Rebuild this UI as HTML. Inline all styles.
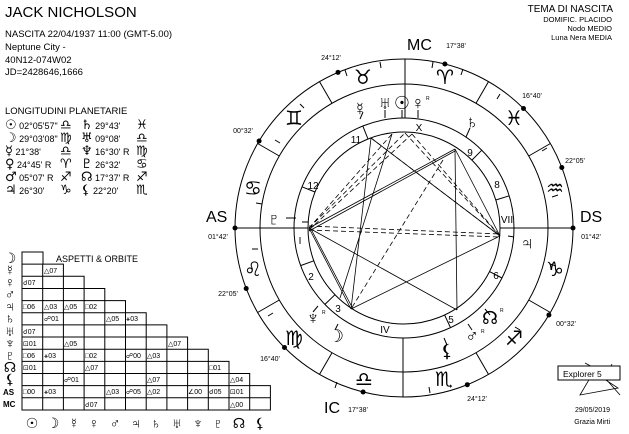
<!DOCTYPE html>
<html><head><meta charset="utf-8"><style>
html,body{margin:0;padding:0;background:#fff}
svg{display:block}
text{font-family:"Liberation Sans","DejaVu Sans",sans-serif;fill:#000}
.g{font-family:"DejaVu Sans",sans-serif}
</style></head><body>
<svg width="629" height="434" viewBox="0 0 629 434" xmlns="http://www.w3.org/2000/svg">
<!-- header -->
<text x="5" y="17" font-size="15">JACK NICHOLSON</text>
<text x="5" y="37" font-size="9.5">NASCITA 22/04/1937 11:00 (GMT-5.00)</text>
<text x="5" y="50" font-size="9.5">Neptune City -</text>
<text x="5" y="63" font-size="9.5">40N12-074W02</text>
<text x="5" y="75" font-size="9.5">JD=2428646,1666</text>
<text x="5" y="114" font-size="9.5">LONGITUDINI PLANETARIE</text>
<g font-size="9">
<text x="5" y="129"><tspan class="g" font-size="13">☉</tspan> 02°05'57"</text>
<text x="5" y="142"><tspan class="g" font-size="13">☽</tspan> 29°03'08"</text>
<text x="5" y="155"><tspan class="g" font-size="13">☿</tspan> 21°38'</text>
<text x="5" y="168"><tspan class="g" font-size="13">♀</tspan> 24°45' R</text>
<text x="5" y="181"><tspan class="g" font-size="13">♂</tspan> 05°07' R</text>
<text x="5" y="194"><tspan class="g" font-size="13">♃</tspan> 26°30'</text>
<text x="60" y="129" class="g" font-size="13">♎</text>
<text x="60" y="142" class="g" font-size="13">♍</text>
<text x="60" y="155" class="g" font-size="13">♎</text>
<text x="60" y="168" class="g" font-size="13">♈</text>
<text x="60" y="181" class="g" font-size="13">♐</text>
<text x="60" y="194" class="g" font-size="13">♑</text>
<text x="81" y="129"><tspan class="g" font-size="13">♄</tspan> 29°43'</text>
<text x="81" y="142"><tspan class="g" font-size="13">♅</tspan> 09°08'</text>
<text x="81" y="155"><tspan class="g" font-size="13">♆</tspan> 16°30' R</text>
<text x="81" y="168"><tspan class="g" font-size="13">♇</tspan> 26°32'</text>
<text x="81" y="181"><tspan class="g" font-size="13">☊</tspan> 17°37' R</text>
<text x="81" y="194"><tspan class="g" font-size="13">⚸</tspan> 22°20'</text>
<text x="136" y="129" class="g" font-size="13">♓</text>
<text x="136" y="142" class="g" font-size="13">♎</text>
<text x="136" y="155" class="g" font-size="13">♍</text>
<text x="136" y="168" class="g" font-size="13">♋</text>
<text x="136" y="181" class="g" font-size="13">♐</text>
<text x="136" y="194" class="g" font-size="13">♏</text>
</g>
<text x="613" y="12" font-size="10" text-anchor="end">TEMA DI NASCITA</text>
<text x="612" y="22" font-size="7.5" text-anchor="end">DOMIFIC. PLACIDO</text>
<text x="612" y="31" font-size="7.5" text-anchor="end">Nodo MEDIO</text>
<text x="612" y="40" font-size="7.5" text-anchor="end">Luna Nera MEDIA</text>

<!-- aspect table -->
<g stroke="#000" stroke-width="1" fill="none">
<path d="M22,252h21v12.15h-21zM22,264.15h41.4v12.15h-41.4zM22,276.3h62.1v12.15h-62.1zM22,288.45h82.8v12.15h-82.8zM22,300.6h103.5v12.15h-103.5zM22,312.75h124.2v12.15h-124.2zM22,324.9h144.9v12.15h-144.9zM22,337.05h165.6v12.15h-165.6zM22,349.2h186.3v12.15h-186.3zM22,361.35h207v12.15h-207zM22,373.5h227.7v12.15h-227.7zM22,385.65h248.4v12.15h-248.4zM22,397.8h248.4v12.15h-248.4z"/>
<path d="M42.7,264.15V410M63.4,276.3V410M84.1,288.45V410M104.8,300.6V410M125.5,312.75V410M146.2,324.9V410M166.9,337.05V410M187.6,349.2V410M208.3,361.35V410M229,373.5V410M249.7,385.65V410"/>
</g>
<text x="56" y="262" font-size="9">ASPETTI &amp; ORBITE</text>
<g class="g" font-size="14" text-anchor="middle">
<text x="10" y="263">☽</text><text x="10" y="275">☿</text><text x="10" y="287">♀</text><text x="10" y="299">♂</text><text x="10" y="311">♃</text><text x="10" y="323">♄</text><text x="10" y="336">♅</text><text x="10" y="348">♆</text><text x="10" y="360">♇</text><text x="10" y="372">☊</text><text x="10" y="384">⚸</text>
</g>
<text x="3" y="395" font-size="8" font-weight="bold">AS</text>
<text x="3" y="407" font-size="8" font-weight="bold">MC</text>
<g class="g" font-size="14" text-anchor="middle">
<text x="32" y="428">☉</text><text x="53" y="428">☽</text><text x="74" y="428">☿</text><text x="94" y="428">♀</text><text x="115" y="428">♂</text><text x="136" y="428">♃</text><text x="156" y="428">♄</text><text x="177" y="428">♅</text><text x="198" y="428">♆</text><text x="218" y="428">♇</text><text x="239" y="428">☊</text><text x="260" y="428">⚸</text>
</g>
<g font-size="7">
<text x="44" y="273">△07</text>
<text x="23" y="285">☌07</text>
<text x="23" y="309">□06</text><text x="44" y="309">△03</text><text x="64" y="309">△05</text><text x="85" y="309">□02</text>
<text x="44" y="321">☍01</text><text x="106" y="321">△05</text><text x="126" y="321">⚹03</text>
<text x="23" y="334">☌07</text>
<text x="23" y="346">⊡01</text><text x="64" y="346">△05</text><text x="168" y="346">△07</text>
<text x="23" y="358">□06</text><text x="44" y="358">⚹03</text><text x="85" y="358">□02</text><text x="126" y="358">☍00</text><text x="147" y="358">△03</text>
<text x="23" y="370">⊡01</text><text x="85" y="370">△07</text><text x="209" y="370">□01</text>
<text x="64" y="382">☍01</text><text x="147" y="382">△07</text><text x="230" y="382">△04</text>
<text x="23" y="394">□00</text><text x="44" y="394">⚹03</text><text x="106" y="394">△03</text><text x="126" y="394">☍05</text><text x="147" y="394">△02</text><text x="188" y="394">∠00</text><text x="209" y="394">☌05</text><text x="230" y="394">⊡01</text>
<text x="85" y="407">☌07</text><text x="230" y="407">△00</text>
</g>

<!-- wheel -->
<g stroke="#000" fill="none" stroke-width="1">
<circle cx="404" cy="228" r="169"/>
<circle cx="404" cy="228" r="144"/>
<circle cx="404" cy="228" r="110"/>
<circle cx="404" cy="228" r="96"/>
<path d="M548,228H573M528.7,156L550.4,143.5M476,103.3L488.5,81.6M332,103.3L319.5,81.6M279.3,156L257.6,143.5M279.3,300L257.6,312.5M332,352.7L319.5,374.4M476,352.7L488.5,374.4M528.7,300L550.4,312.5"/>
<path d="M235,228H308M500,228H573M405,59V118M403,338V397"/>
<path d="M315,192L302,186.8M368,139L362.8,126M471.9,160.1L481.8,150.2M495.8,200L509.2,195.8M489.5,271.6L502,278M444.6,315L450.5,327.7M335,294.7L324.9,304.4M313.8,260.8L300.6,265.6"/>
<path d="M345,70L347,76M380,62L381,68M433,62L432,68M463,69L461,75M500,94L497,99M547,148L542,151M558,195L552,197M556,266L550,264M520,330L515,327M430,393L429,387M335,388L337,382M268,316L273,313M252,249L258,249M256,203L262,204M275,140L280,143M300,104L304,108"/>
<path d="M360,119L363,112M385,118L385,110M402,118L402,110M418,118L418,110M466,137L470,128M286,218L296,218M308,222L302,222M514,237L508,236M490,315L485,309M472,330L468,324M447,345L444,338M335,330L338,324M313,312L318,306"/>
</g>
<g fill="#000">
<circle cx="338" cy="72.4" r="2.5"/><circle cx="444.9" cy="64" r="2.5"/><circle cx="523.5" cy="108.5" r="2.5"/><circle cx="561.8" cy="167.5" r="2.5"/><circle cx="548.9" cy="315" r="2.5"/><circle cx="467.3" cy="384.7" r="2.5"/><circle cx="363.1" cy="392" r="2.5"/><circle cx="284.5" cy="347.5" r="2.5"/><circle cx="246.2" cy="288.5" r="2.5"/><circle cx="259.1" cy="141" r="2.5"/><circle cx="235" cy="228" r="2.5"/><circle cx="573" cy="228" r="2.5"/>
</g>
<g font-size="7" text-anchor="middle">
<text x="331" y="60">24°12'</text><text x="456" y="48">17°38'</text><text x="532" y="98">16°40'</text><text x="575" y="163">22°05'</text><text x="566" y="326">00°32'</text><text x="477" y="401">24°12'</text><text x="358" y="412">17°38'</text><text x="270" y="361">16°40'</text><text x="228" y="296">22°05'</text><text x="243" y="133">00°32'</text><text x="218" y="239">01°42'</text><text x="591" y="239">01°42'</text>
</g>
<text x="407" y="50" font-size="16">MC</text>
<text x="206" y="222" font-size="16">AS</text>
<text x="580" y="222" font-size="16">DS</text>
<text x="324" y="413" font-size="16">IC</text>
<g class="g" font-size="20" text-anchor="middle" font-weight="bold">
<text x="253" y="195">♋</text><text x="294" y="125">♊</text><text x="363" y="84">♉</text><text x="445" y="84">♈</text><text x="514" y="125">♓</text><text x="555" y="195">♒</text><text x="555" y="276">♑</text><text x="514" y="345">♐</text><text x="444" y="386">♏</text><text x="364" y="386">♎</text><text x="294" y="345">♍</text><text x="253" y="276">♌</text>
</g>
<g class="g" font-size="18" text-anchor="middle">
<text x="360" y="115">☿</text><text x="385" y="109">♅</text><text x="402" y="109">☉</text><text x="418" y="109">♀</text><text x="472" y="128">♄</text><text x="274" y="225">♇</text><text x="527" y="249">♃</text><text x="490" y="324">☊</text><text x="472" y="342">♂</text><text x="447" y="357">⚸</text><text x="336" y="342">☽</text><text x="313" y="324">♆</text>
</g>
<g font-size="5"><text x="426" y="100">R</text><text x="500" y="312">R</text><text x="481" y="333">R</text><text x="322" y="314">R</text></g>
<g font-size="10" text-anchor="middle">
<text x="356" y="143">11</text><text x="313" y="189">12</text><text x="300" y="244">I</text><text x="311" y="280">2</text><text x="338" y="312">3</text><text x="385" y="333">IV</text><text x="451" y="323">5</text><text x="496" y="279">6</text><text x="507" y="223">VII</text><text x="497" y="188">8</text><text x="470" y="156">9</text><text x="419" y="131">X</text>
</g>
<g stroke="#000" fill="none" stroke-width="0.8">
<path d="M309,228L455,149M309,231L455,151M309,228L351,309M311,229L353,309M309,228L457,310M371,138L500,236M371,138L351,309M392,134L340,298M455,149L457,310M455,149L500,236M351,309L500,236"/>
<path stroke-dasharray="5,3" d="M309,226L500,234M309,230L500,237M309,228L405,133M309,230L412,134M309,228L392,134M405,133L500,236M412,134L500,236M443,160L351,309M371,138L500,236"/>
</g>
<g stroke="#000" fill="none" stroke-width="0.8">
<path d="M585,363L600,371M612,364L606,378M590,378L580,395L618,388L598,375M605,378L620,395"/>
</g>
<rect x="558" y="366" width="62" height="14" fill="#fff" stroke="#000"/>
<text x="563" y="377" font-size="8.5">Explorer 5</text>
<text x="610" y="412" font-size="7" text-anchor="end">29/05/2019</text>
<text x="610" y="424" font-size="7" text-anchor="end">Grazia Mirti</text>
</svg>
</body></html>
